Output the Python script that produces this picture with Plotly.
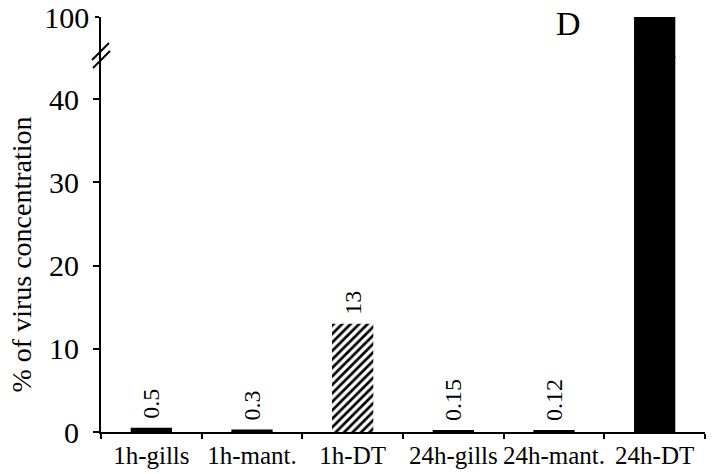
import plotly.graph_objects as go

# Data: share of virus concentration by tissue and exposure time
categories = ["1h-gills", "1h-mant.", "1h-DT", "24h-gills", "24h-mant.", "24h-DT"]
values = [0.5, 0.3, 13, 0.15, 0.12, 100]
labelled = [True, True, True, True, True, False]
hatched = [False, False, True, False, False, False]

# y-axis ticks for the two parts of the broken axis
lower_ticks = [0, 10, 20, 30, 40]
upper_ticks = [100]

FONT = "Liberation Serif, Times New Roman, serif"

# leading space keeps the rotated value labels a little clear of the bar tops
bar_text = [f" {v:g}" if show else "" for v, show in zip(values, labelled)]
shapes_pattern = ["/" if h else "" for h in hatched]

BREAK = 0.906  # split between lower and upper y-ranges (paper fraction)
OVERLAP = 0.004  # upper panel starts a hair lower so the tall bar has no seam

fig = go.Figure()

marker = dict(
    color="black",
    line=dict(width=0),
    pattern=dict(shape=shapes_pattern, fgcolor="black", bgcolor="white",
                 size=6, solidity=0.45, fillmode="replace"),
)

# lower part of the broken axis (0 .. ~45)
fig.add_trace(go.Bar(
    x=categories, y=values, marker=marker,
    text=bar_text, textposition="outside", textangle=-90,
    constraintext="none", cliponaxis=False,
    textfont=dict(family=FONT, size=24, color="black"),
    xaxis="x", yaxis="y", showlegend=False,
))

# upper part of the broken axis (around 100)
fig.add_trace(go.Bar(
    x=categories, y=values, marker=marker,
    xaxis="x2", yaxis="y2", showlegend=False,
))

# lower-axis tick labels, set a bit further from the ticks
tick_labels = [
    dict(text=str(t), xref="paper", yref="y", x=0, y=t, xshift=-20,
         xanchor="right", yanchor="middle", showarrow=False,
         font=dict(family=FONT, size=30, color="black"))
    for t in lower_ticks
]

fig.update_layout(
    width=715, height=474,
    margin=dict(l=101, r=10, t=17, b=42, autoexpand=False),
    paper_bgcolor="white", plot_bgcolor="rgba(0,0,0,0)",
    font=dict(family=FONT, color="black"),
    bargap=0.59,
    xaxis=dict(
        domain=[0, 1], anchor="y", automargin=False,
        showline=True, linecolor="black", linewidth=1.5,
        ticks="outside", ticklen=5, tickcolor="black", tickwidth=1.5,
        tickson="boundaries", tickangle=0,
        tickfont=dict(family=FONT, size=25, color="black"),
        showgrid=False, zeroline=False,
    ),
    xaxis2=dict(
        domain=[0, 1], anchor="y2", matches="x",
        visible=False, showgrid=False,
    ),
    yaxis=dict(
        domain=[0, BREAK], anchor="x", automargin=False,
        range=[0, 45.2], tickvals=lower_ticks, showticklabels=False,
        showline=True, linecolor="black", linewidth=1.5,
        ticks="outside", ticklen=6, tickcolor="black", tickwidth=1.5,
        showgrid=False, zeroline=False,
    ),
    yaxis2=dict(
        domain=[BREAK - OVERLAP, 1], anchor="x2", automargin=False,
        range=[95.0, 100.0001], tickvals=upper_ticks,
        showline=True, linecolor="black", linewidth=1.5,
        ticks="outside", ticklen=4, tickcolor="black", tickwidth=1.5,
        ticklabelstandoff=0,
        tickfont=dict(family=FONT, size=30, color="black"),
        showgrid=False, zeroline=False,
    ),
    annotations=tick_labels + [
        dict(text="% of virus concentration", textangle=-90,
             xref="paper", yref="paper", x=-0.1308, y=0.4277,
             xanchor="center", yanchor="middle", showarrow=False,
             font=dict(family=FONT, size=28, color="black")),
        dict(text="D", xref="paper", yref="paper", x=0.7732, y=0.9855,
             xanchor="center", yanchor="middle", showarrow=False,
             font=dict(family=FONT, size=34, color="black")),
    ],
    shapes=[
        # axis-break slashes
        dict(type="line", xref="paper", yref="paper",
             xsizemode="pixel", ysizemode="pixel", xanchor=0, yanchor=BREAK,
             x0=-9, y0=-4, x1=8, y1=13, line=dict(color="black", width=2)),
        dict(type="line", xref="paper", yref="paper",
             xsizemode="pixel", ysizemode="pixel", xanchor=0, yanchor=BREAK,
             x0=-8, y0=-12, x1=9, y1=5, line=dict(color="black", width=2)),
    ],
)

fig.write_html("out.html")
